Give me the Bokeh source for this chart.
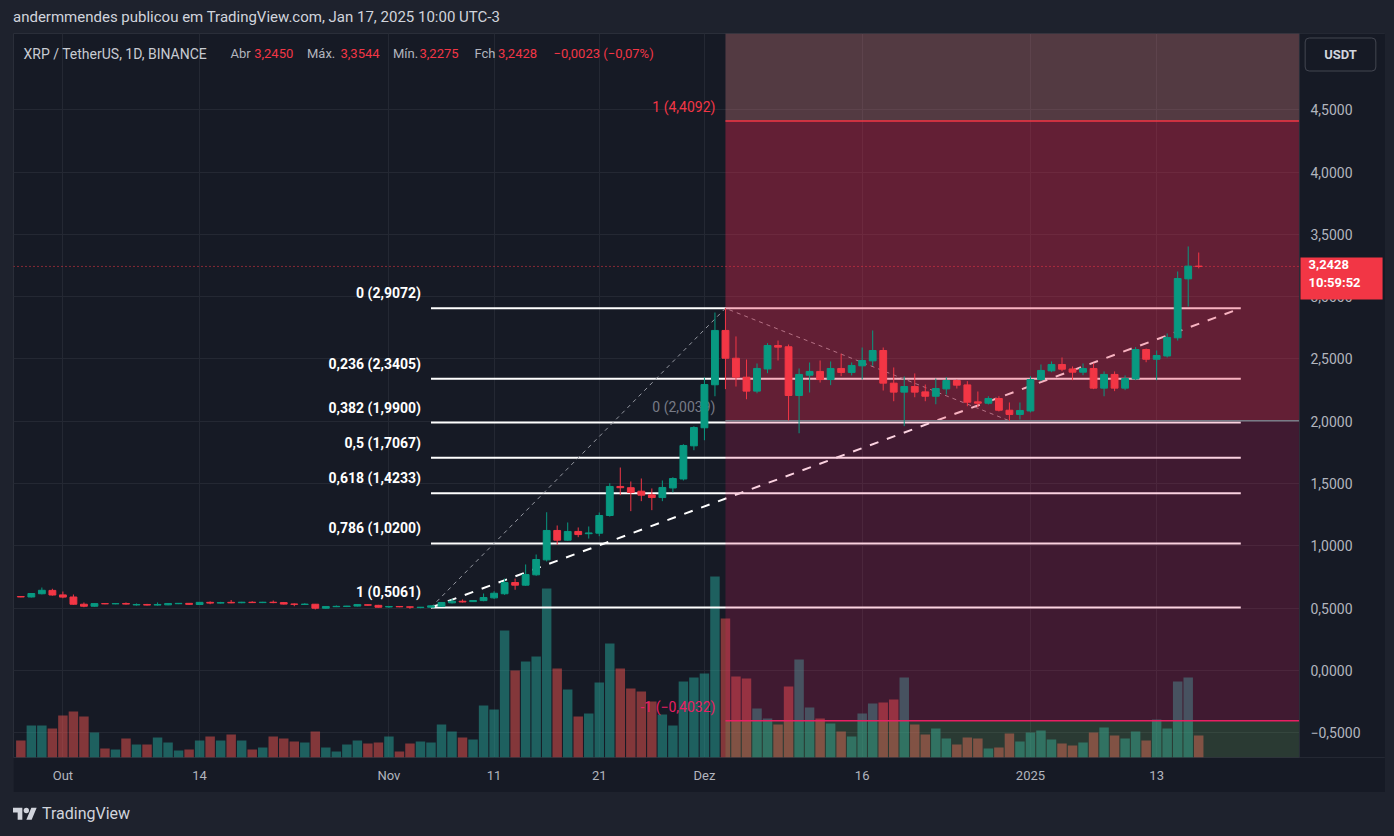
import pandas as pd
from bokeh.plotting import figure
from bokeh.models import (Range1d, FixedTicker, CustomJSTickFormatter, Label, Span,
                          Div, Spacer, ColumnDataSource)
from bokeh.layouts import column, row
from bokeh.core.properties import value
from bokeh.embed import file_html
from bokeh.resources import INLINE

# ---------------- data (XRP/USDT daily) ----------------
first_day = "2024-09-27"
last_day = "2025-01-17"

opens = [0.594, 0.590, 0.616, 0.643,
         0.607, 0.590, 0.532, 0.516, 0.537, 0.535, 0.538, 0.526, 0.530, 0.525, 0.527, 0.536, 0.539, 0.530, 0.547, 0.541,
         0.547, 0.544, 0.548, 0.545, 0.548, 0.545, 0.534, 0.530, 0.532, 0.500, 0.512, 0.514, 0.517, 0.528, 0.523,
         0.510, 0.514, 0.511, 0.505, 0.508, 0.515, 0.543, 0.556, 0.553, 0.561, 0.583, 0.616, 0.706, 0.685, 0.768,
         0.888, 1.124, 1.046, 1.116, 1.098, 1.102, 1.244, 1.477, 1.467, 1.439, 1.410, 1.388, 1.465, 1.537, 1.803,
         1.948, 2.293, 2.729, 2.506, 2.354, 2.242, 2.420, 2.608, 2.598, 2.207, 2.370, 2.400, 2.335, 2.424, 2.392,
         2.445, 2.485, 2.568, 2.306, 2.234, 2.279, 2.236, 2.201, 2.260, 2.327, 2.292, 2.156, 2.145, 2.183, 2.089, 2.055,
         2.083, 2.335, 2.405, 2.456, 2.420, 2.394, 2.424, 2.266, 2.376, 2.266, 2.340, 2.576, 2.498, 2.524, 2.670,
         3.143, 3.2450]
highs = [0.596, 0.620, 0.666, 0.656,
         0.634, 0.610, 0.546, 0.540, 0.540, 0.539, 0.546, 0.538, 0.535, 0.546, 0.541, 0.541, 0.541, 0.549, 0.555, 0.551,
         0.566, 0.551, 0.556, 0.551, 0.562, 0.550, 0.538, 0.540, 0.534, 0.516, 0.522, 0.519, 0.533, 0.530, 0.527,
         0.518, 0.517, 0.514, 0.510, 0.521, 0.548, 0.575, 0.570, 0.566, 0.618, 0.636, 0.738, 0.738, 0.851, 0.931,
         1.270, 1.164, 1.188, 1.148, 1.156, 1.268, 1.503, 1.629, 1.517, 1.541, 1.461, 1.525, 1.551, 1.816, 1.961,
         2.352, 2.873, 2.9072, 2.681, 2.496, 2.464, 2.627, 2.648, 2.616, 2.424, 2.472, 2.488, 2.480, 2.542, 2.472,
         2.592, 2.729, 2.592, 2.432, 2.360, 2.384, 2.295, 2.343, 2.354, 2.335, 2.322, 2.239, 2.201, 2.201, 2.151, 2.151,
         2.362, 2.456, 2.480, 2.512, 2.440, 2.464, 2.464, 2.400, 2.400, 2.368, 2.595, 2.584, 2.568, 2.705, 3.202,
         3.403, 3.3544]
lows = [0.588, 0.586, 0.611, 0.601,
        0.580, 0.528, 0.508, 0.513, 0.532, 0.532, 0.530, 0.521, 0.522, 0.521, 0.524, 0.533, 0.528, 0.527, 0.532, 0.538,
        0.540, 0.540, 0.543, 0.541, 0.540, 0.530, 0.516, 0.527, 0.490, 0.497, 0.509, 0.509, 0.514, 0.520, 0.505,
        0.503, 0.508, 0.495, 0.500, 0.5061, 0.512, 0.538, 0.546, 0.550, 0.556, 0.574, 0.607, 0.648, 0.680, 0.760,
        0.875, 1.009, 1.040, 1.070, 1.059, 1.078, 1.235, 1.407, 1.279, 1.359, 1.287, 1.359, 1.429, 1.525, 1.768,
        1.848, 2.201, 2.258, 2.279, 2.177, 2.225, 2.386, 2.488, 2.006, 1.904, 2.231, 2.311, 2.290, 2.362, 2.368,
        2.335, 2.445, 2.247, 2.161, 1.961, 2.193, 2.161, 2.137, 2.215, 2.263, 2.121, 2.113, 2.135, 2.079, 2.0039, 2.014,
        2.071, 2.322, 2.394, 2.402, 2.330, 2.370, 2.258, 2.201, 2.242, 2.250, 2.330, 2.474, 2.330, 2.512, 2.648,
        2.921, 3.2275]
closes = [0.590, 0.618, 0.644, 0.606,
          0.589, 0.532, 0.516, 0.537, 0.535, 0.537, 0.533, 0.530, 0.525, 0.530, 0.538, 0.539, 0.531, 0.547, 0.541, 0.545,
          0.543, 0.548, 0.545, 0.548, 0.545, 0.533, 0.531, 0.533, 0.500, 0.514, 0.515, 0.517, 0.530, 0.524, 0.508,
          0.514, 0.511, 0.508, 0.508, 0.519, 0.546, 0.556, 0.550, 0.562, 0.586, 0.620, 0.706, 0.685, 0.770, 0.891,
          1.124, 1.046, 1.116, 1.091, 1.104, 1.244, 1.477, 1.467, 1.429, 1.407, 1.388, 1.469, 1.541, 1.806, 1.950,
          2.295, 2.729, 2.506, 2.354, 2.242, 2.424, 2.608, 2.595, 2.207, 2.376, 2.400, 2.335, 2.424, 2.392, 2.448,
          2.488, 2.568, 2.306, 2.234, 2.279, 2.234, 2.201, 2.263, 2.327, 2.290, 2.153, 2.145, 2.183, 2.089, 2.055, 2.087,
          2.335, 2.408, 2.456, 2.418, 2.394, 2.424, 2.266, 2.376, 2.266, 2.343, 2.576, 2.498, 2.528, 2.673, 3.146,
          3.2451, 3.2428]
volumes_m = [340, 640, 640, 580,
             840, 920, 820, 500, 180, 160, 380, 260, 260, 400, 300, 140, 160, 340, 420, 340,
             460, 340, 160, 200, 420, 380, 320, 300, 520, 200, 120, 260, 340, 280, 300,
             420, 120, 280, 320, 300, 660, 520, 400, 360, 1040, 960, 2540, 1740, 1920, 2020,
             3380, 1780, 1360, 820, 880, 1500, 2280, 1780, 1380, 1320, 1120, 860, 640, 1520, 1600,
             1680, 3620, 2780, 1620, 1580, 980, 780, 660, 1420, 1960, 1000, 780, 680, 520, 420,
             880, 1080, 1100, 1160, 1600, 660, 460, 580, 380, 260, 400, 380, 180, 200, 480, 320,
             500, 540, 360, 280, 240, 300, 500, 600, 440, 380, 520, 340, 760, 580, 1520,
             1600, 440]

# Fibonacci retracement drawn on the chart
fib_ratios = ["0", "0,236", "0,382", "0,5", "0,618", "0,786", "1"]
fib_prices = [2.9072, 2.3405, 1.9900, 1.7067, 1.4233, 1.0200, 0.5061]
fib_start, fib_end = "2024-11-05", "2025-01-21"

# Trend-based fib extension (levels 1, 0, -1) and its three pivots
ext_ratios = ["1", "0", "-1"]
ext_prices = [4.4092, 2.0039, -0.4032]
ext_colors = ["#f23645", "#787b86", "#e91e63"]
ext_start = "2024-12-03"
pivot_dates = ["2024-11-05", "2024-12-03", "2024-12-30"]
pivot_prices = [0.5061, 2.9072, 2.0039]

# dashed trend line
trend_dates = ["2024-11-05", "2025-01-21"]
trend_prices = [0.5061, 2.9072]

price_ticks = [-0.5, 0.0, 0.5, 1.0, 1.5, 2.0, 2.5, 3.0, 3.5, 4.0, 4.5]
time_tick_dates = ["2024-10-01", "2024-10-14", "2024-11-01", "2024-11-11", "2024-11-21",
                   "2024-12-01", "2024-12-16", "2025-01-01", "2025-01-13"]
time_tick_labels = ["Out", "14", "Nov", "11", "21", "Dez", "16", "2025", "13"]

# ---------------- helpers ----------------
ORIGIN = pd.Timestamp("2024-10-01")


def day(s):
    return (pd.Timestamp(s) - ORIGIN).days


def fmt(v, nd=4):
    s = f"{abs(v):.{nd}f}".replace(".", ",")
    return ("\u2212" if v < 0 else "") + s


dates = pd.date_range(first_day, last_day, freq="D")
xs = [(d - ORIGIN).days for d in dates]

BG = "#161a25"
OUTER = "#1e222d"
UP, DOWN = "#089981", "#f23645"
VUP, VDOWN = "#26a69a", "#ef5350"
TXT = "#b2b5be"
FONT = "Roboto"

# x: chart pane spans X0..XA, the price scale occupies XA..X1 (same frame)
X0, XA, X1 = -4.697, 117.58, 125.76
Y0, Y1 = -0.698, 5.112
VOL_TOP = 14480

up = [c >= o for o, c in zip(opens, closes)]
src = ColumnDataSource(dict(
    x=xs, o=opens, h=highs, l=lows, c=closes, v=volumes_m,
    col=[UP if u else DOWN for u in up],
    vcol=[VUP if u else VDOWN for u in up],
))

p = figure(width=1372, height=759, x_range=Range1d(X0, X1), y_range=Range1d(Y0, Y1),
           output_backend="svg", toolbar_location=None, title=None, y_axis_location="right",
           background_fill_color=BG, border_fill_color=BG,
           min_border_left=0, min_border_top=0, min_border_right=0, min_border_bottom=35,
           outline_line_color="#2a2e39")

# axes
p.yaxis.fixed_location = XA
p.yaxis.ticker = FixedTicker(ticks=price_ticks)
p.yaxis.formatter = CustomJSTickFormatter(
    code="var s = Math.abs(tick).toFixed(4).replace('.', ','); return (tick < 0 ? '\u2212' : '') + s;")
p.xaxis.ticker = FixedTicker(ticks=[day(d) for d in time_tick_dates])
p.xaxis.major_label_overrides = {day(d): lab for d, lab in zip(time_tick_dates, time_tick_labels)}
for ax in (p.xaxis[0], p.yaxis[0]):
    ax.axis_line_color = None
    ax.major_tick_line_color = None
    ax.minor_tick_line_color = None
    ax.major_tick_out = 0
    ax.major_tick_in = 0
    ax.major_label_text_color = TXT
    ax.major_label_text_font = FONT
    ax.major_label_text_font_size = "13px"
p.yaxis.major_label_text_font_size = "14px"
p.yaxis.major_label_standoff = 11
p.xaxis.major_label_standoff = 10
p.xgrid.grid_line_color = "#242833"
p.ygrid.grid_line_color = "#242833"

# price-scale area background (hides grid there)
p.quad(left=[XA], right=[X1], bottom=[Y0], top=[Y1], fill_color=BG, line_color=None)

# volume
p.extra_y_ranges = {"vol": Range1d(0, VOL_TOP)}
p.vbar(x="x", top="v", bottom=0, width=0.9, y_range_name="vol", source=src,
       fill_color="vcol", fill_alpha=0.5, line_color=None)

# fib retracement lines
n = len(fib_prices)
p.segment(x0=[day(fib_start)] * n, y0=fib_prices, x1=[day(fib_end)] * n, y1=fib_prices,
          line_color="white", line_width=2)
# dashed trend line
p.line(x=[day(d) for d in trend_dates], y=trend_prices, line_color="white", line_width=2,
       line_dash="9 9")
# thin dashed pivot path of the extension tool
p.line(x=[day(d) for d in pivot_dates], y=pivot_prices, line_color="#9598a1", line_width=1,
       line_dash="4 4")

# labels of the retracement
p.text(x=[day(fib_start)] * n, y=fib_prices,
       text=[f"{r} ({fmt(v)})" for r, v in zip(fib_ratios, fib_prices)],
       text_align="right", text_baseline="bottom", x_offset=-10, y_offset=-7,
       text_color="white", text_font=value(FONT), text_font_size="14px", text_font_style="bold")
# labels of the extension
p.text(x=[day(ext_start)] * 3, y=ext_prices,
       text=[f"{r} ({fmt(v)})" for r, v in zip(ext_ratios, ext_prices)],
       text_align="right", text_baseline="bottom", x_offset=-10, y_offset=-6,
       text_color=ext_colors, text_font=value(FONT), text_font_size="14px")

# shaded zones of the extension tool
xs0 = day(ext_start)
p.quad(left=[xs0], right=[XA], bottom=[ext_prices[0]], top=[Y1],
       fill_color="#e18589", fill_alpha=0.3, line_color=None)
p.quad(left=[xs0], right=[XA], bottom=[ext_prices[2]], top=[ext_prices[0]],
       fill_color="#e91e63", fill_alpha=0.2, line_color=None)
p.quad(left=[xs0], right=[XA], bottom=[ext_prices[1]], top=[ext_prices[0]],
       fill_color="#f23645", fill_alpha=0.2, line_color=None)
p.quad(left=[xs0], right=[XA], bottom=[Y0], top=[ext_prices[2]],
       fill_color="#7fbf70", fill_alpha=0.2, line_color=None)
p.segment(x0=[xs0] * 3, y0=ext_prices, x1=[XA] * 3, y1=ext_prices,
          line_color=ext_colors, line_width=1.5)

# last price line (dotted)
last_price = closes[-1]
p.segment(x0=[X0], y0=[last_price], x1=[XA], y1=[last_price], line_color=DOWN,
          line_dash="1 3", line_width=1)

# candles
p.segment(x0="x", y0="l", x1="x", y1="h", line_color="col", line_width=1, source=src)
body_src = ColumnDataSource(dict(
    x=xs, top=[max(o, c) for o, c in zip(opens, closes)],
    bottom=[min(o, c) for o, c in zip(opens, closes)],
    col=[UP if u else DOWN for u in up]))
p.vbar(x="x", top="top", bottom="bottom", width=0.65, fill_color="col", line_color="col",
       line_width=1, source=body_src)

# separator between pane and price scale
p.add_layout(Span(location=XA, dimension="height", line_color="#2a2e39", line_width=1))

# price tag on the price scale  (padding order: left, right, top, bottom)
p.add_layout(Label(x=1287, y=last_price, x_units="screen", y_units="data",
                   text=f"{fmt(last_price)}\n10:59:52", text_color="white",
                   text_font=FONT, text_font_size="13px", text_font_style="bold",
                   text_baseline="top", y_offset=9,
                   background_fill_color=DOWN, padding=(8, 22, 0, 9)))
# currency button
p.add_layout(Label(x=1327, y=703, x_units="screen", y_units="screen", text="USDT",
                   text_color="#d1d4dc", text_font=FONT, text_font_size="13px",
                   text_font_style="bold", text_align="center", text_baseline="middle",
                   background_fill_color=BG, border_line_color="#434651",
                   padding=(19, 19, 9, 9), border_radius=4))

# legend (symbol + OHLC of the last bar)
chg = closes[-1] - closes[-2]
pct = chg / closes[-2] * 100
legend_items = [
    ("XRP / TetherUS, 1D, BINANCE", "#c8cbd2", 10, "14px"),
    ("Abr", TXT, 217, "13px"), (fmt(opens[-1]), DOWN, 240.7, "13px"),
    ("Máx.", TXT, 293.5, "13px"), (fmt(highs[-1]), DOWN, 327, "13px"),
    ("Mín.", TXT, 379.4, "13px"), (fmt(lows[-1]), DOWN, 406, "13px"),
    ("Fch", TXT, 461, "13px"), (fmt(closes[-1]), DOWN, 484.5, "13px"),
    (f"{fmt(chg)} ({fmt(pct, 2)}%)", DOWN, 540, "13px"),
]
for t, c, xx, fs in legend_items:
    p.add_layout(Label(x=xx, y=704, x_units="screen", y_units="screen", text=t,
                       text_color=c, text_font=FONT, text_font_size=fs,
                       text_baseline="middle"))

# ---------------- page frame ----------------
top = Div(text='<div style="padding:7px 0 0 13px;color:#d1d4dc;font-family:Roboto,sans-serif;'
               'font-size:15px;white-space:nowrap;">andermmendes publicou em TradingView.com, '
               'Jan 17, 2025 10:00 UTC-3</div>',
          width=1394, height=33, margin=0, styles={"background-color": OUTER})
logo = ('<div style="display:flex;align-items:center;height:44px;padding-left:13px;color:#d1d4dc;'
        'font-family:Roboto,sans-serif;font-size:16px;">'
        '<svg width="24" height="19" viewBox="0 0 36 28" fill="#d1d4dc">'
        '<path d="M14 22H7V11H0V4h14v18zM28 22h-8l7.5-18h8L28 22z"/><circle cx="20" cy="8" r="4"/></svg>'
        '<span style="margin-left:5px">TradingView</span></div>')
bottom = Div(text=logo, width=1394, height=44, margin=0, styles={"background-color": OUTER})
left_sp = Spacer(width=13, height=759, margin=0, styles={"background-color": OUTER})
right_sp = Spacer(width=9, height=759, margin=0, styles={"background-color": OUTER})
page = column(top, row(left_sp, p, right_sp), bottom, styles={"background-color": OUTER})

open("out.html", "w").write(file_html(page, INLINE))
